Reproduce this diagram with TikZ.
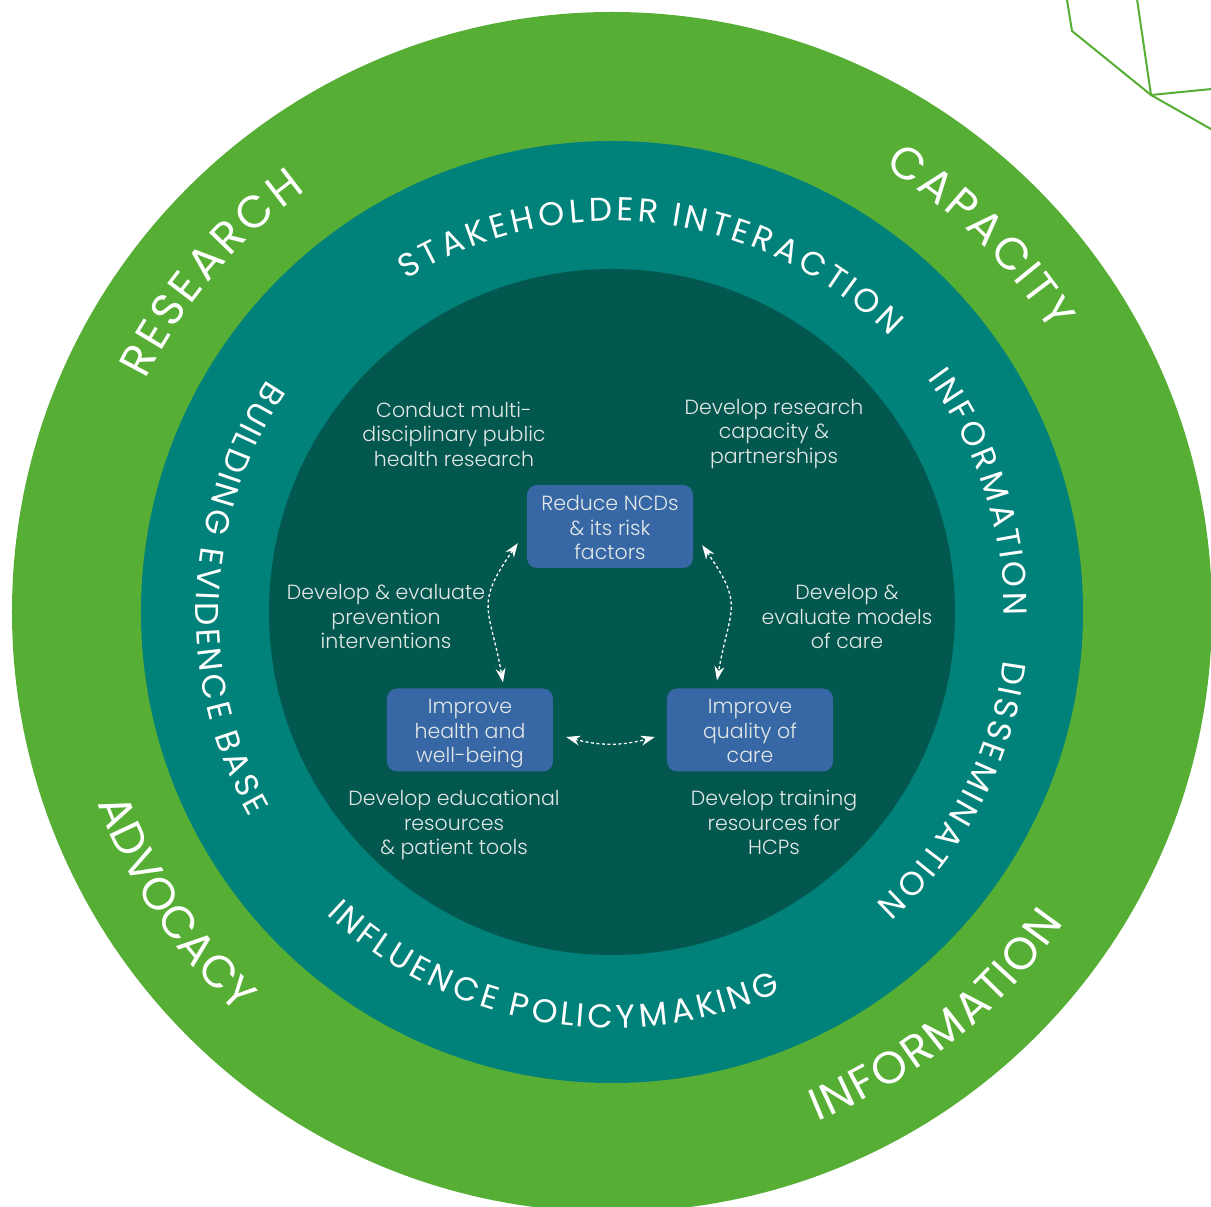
\documentclass[tikz,border=0pt]{standalone}
\usepackage{fontspec}
\setmainfont{Poppins}[UprightFont={* Light}]
\newfontfamily\ringfont{Poppins}
\usepackage{tikz}
\usetikzlibrary{arrows.meta,decorations.text}
\definecolor{cc-green}{HTML}{56AE34}
\definecolor{cc-teal}{HTML}{00827A}
\definecolor{cc-core}{HTML}{02574E}
\definecolor{cc-blue}{HTML}{3867A5}
\definecolor{cc-note}{HTML}{E2E8E6}
\newcommand\notebottom{\rule[-6pt]{0pt}{0pt}}

\tikzset{
    note/.style={align=center, text=cc-note, font=\fontsize{20.5}{24.5}\selectfont,
        execute at end node=\notebottom},
    goal/.style={fill=cc-blue, rounded corners=10pt, minimum width=166pt, minimum height=83pt,
        inner sep=0pt},
    link/.style={white, line width=1.3pt, dash pattern=on 3pt off 2.5pt,
        {Stealth[length=14pt,width=10pt]}-{Stealth[length=14pt,width=10pt]}},
    outerlabel/.style={decorate, decoration={text effects along path, text={#1},
        text effects/.cd, text along path, fit text to path,
        characters={text=white, font=\ringfont\fontsize{45}{45}\selectfont}}},
    innerlabel/.style={decorate, decoration={text effects along path, text={#1},
        text effects/.cd, text along path, fit text to path,
        characters={text=white, font=\ringfont\fontsize{33}{33}\selectfont}}},
}

\begin{document}
\begin{tikzpicture}[x=1pt, y=1pt]
    \clip (-612,-595) rectangle (599,612);
    \fill[white] (-612,-595) rectangle (599,612);

    % rings
    \fill[cc-green] (0,0) circle[radius=600];
    \fill[cc-teal] (0,0) circle[radius=471];
    \fill[cc-core] (0,0) circle[radius=343];

    % corner ornament
    \draw[cc-green, line width=2pt] (454,620) -- (455,612) -- (460,581) -- (539,517) -- (620,471);
    \draw[cc-green, line width=2pt] (524,620) -- (539,517) -- (620,525);

    % outer ring labels
    \path[outerlabel={RESEARCH}] (153.5:521) arc[start angle=153.5, end angle=126, radius=521];
    \path[outerlabel={CAPACITY}] (58.5:521) arc[start angle=58.5, end angle=32.5, radius=521];
    \path[outerlabel={ADVOCACY}] (200.4:549) arc[start angle=200.4, end angle=227, radius=549];
    \path[outerlabel={INFORMATION}] (292:549) arc[start angle=292, end angle=325.5, radius=549];

    % middle ring labels
    \path[innerlabel={STAKEHOLDER INTERACTION}] (121.7:391) arc[start angle=121.7, end angle=44.7, radius=391];
    \path[innerlabel={INFORMATION}] (36.5:392) arc[start angle=36.5, end angle=-0.5, radius=392];
    \path[innerlabel={DISSEMINATION}] (-7:394) arc[start angle=-7, end angle=-48, radius=394];
    \path[innerlabel={BUILDING EVIDENCE BASE}] (146:416) arc[start angle=146, end angle=209.5, radius=416];
    \path[innerlabel={INFLUENCE POLICYMAKING}] (226.6:416) arc[start angle=226.6, end angle=294, radius=416];

    % goals
    \node[goal] (ncd) at (-2,85.5) {};
    \node[goal] (health) at (-142,-118) {};
    \node[goal] (quality) at (138,-118) {};
    \node[note] (ncd-text) at ([yshift=-4]ncd.center) {Reduce NCDs\\\& its risk\\factors};
    \node[note] (health-text) at ([yshift=-4]health.center) {Improve\\health and\\well-being};
    \node[note] (quality-text) at ([yshift=-4]quality.center) {Improve\\quality of\\care};

    % activities
    \node[note] (research) at (-158,175) {Conduct multi-\\disciplinary public\\health research};
    \node[note] (partners) at (162,178) {Develop research\\capacity \&\\partnerships};
    \node[note] (prevention) at (-226,-7.5) {Develop \& evaluate\\prevention\\interventions};
    \node[note] (models) at (235,-7.5) {Develop \&\\evaluate models\\of care};
    \node[note] (patients) at (-158,-213.5) {Develop educational\\resources\\\& patient tools};
    \node[note] (training) at (162,-213.5) {Develop training\\resources for\\HCPs};

    \draw[link] ([shift={(-9,25)}]ncd.south west) to[out=235, in=100, looseness=1.4] ([shift={(33,6)}]health.north);
    \draw[link] ([shift={(9,23)}]ncd.south east) to[out=-55, in=80, looseness=1.4] ([shift={(-33,8)}]quality.north);
    \draw[link] ([shift={(13,-7)}]health.east) to[out=-15, in=195] ([shift={(-12,-7)}]quality.west);
\end{tikzpicture}
\end{document}
